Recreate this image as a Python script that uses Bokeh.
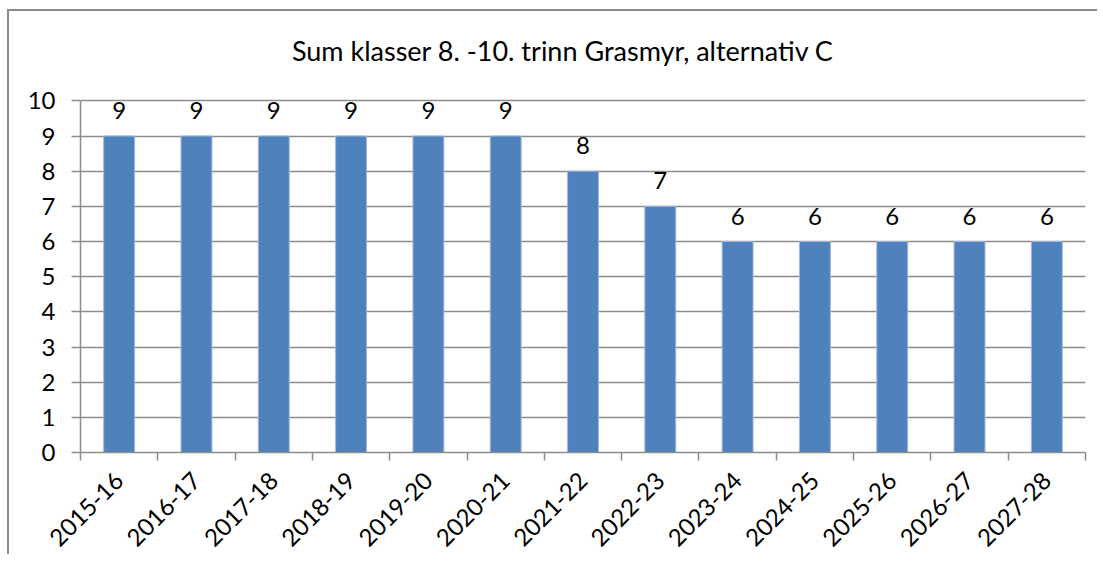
import math
from bokeh.plotting import figure
from bokeh.models import ColumnDataSource, Range1d, LabelSet, Label, FixedTicker
from bokeh.embed import file_html
from bokeh.resources import INLINE
from bokeh.core.properties import value

# ---- data ----
seasons = ["2015-16", "2016-17", "2017-18", "2018-19", "2019-20", "2020-21", "2021-22",
           "2022-23", "2023-24", "2024-25", "2025-26", "2026-27", "2027-28"]
classes = [9, 9, 9, 9, 9, 9, 8, 7, 6, 6, 6, 6, 6]
y_ticks = [0, 1, 2, 3, 4, 5, 6, 7, 8, 9, 10]
title_text = "Sum klasser 8. -10. trinn Grasmyr, alternativ C"

FONT = "Lato"
GRAY = "#8c8c8c"
BAR = "#4f81bd"

centers = [i + 0.5 for i in range(len(seasons))]
bounds = list(range(len(seasons) + 1))
src = ColumnDataSource(dict(x=centers, y=classes, label=[str(v) for v in classes]))

# the frame extends above the value axis so that the chart title can sit inside it
p = figure(width=1090, height=545, output_backend="svg", toolbar_location=None,
           x_range=Range1d(0, len(seasons)), y_range=Range1d(y_ticks[0], y_ticks[-1] + 2),
           min_border_left=71, min_border_right=14, min_border_top=19, min_border_bottom=104,
           styles={"margin-left": "7px", "margin-top": "9px",
                   "border-left": "2px solid #8a8a8a", "border-top": "2px solid #8a8a8a"})
p.outline_line_color = None
p.background_fill_color = "white"
p.border_fill_color = "white"

# chart title, centred over the chart area (slightly left of the plot frame centre)
title = Label(x=len(seasons) / 2, y=y_ticks[-1], x_offset=-20, y_offset=50,
              text=title_text, text_align="center", text_baseline="middle",
              text_font=FONT, text_font_size="27px", text_color="black")
p.add_layout(title)

p.vbar(x="x", top="y", width=0.4, bottom=0, source=src, fill_color=BAR,
       line_color="#9fb8da", line_width=1)

labels = LabelSet(x="x", y="y", text="label", source=src, text_align="center",
                  text_baseline="alphabetic", y_offset=17, text_font=value(FONT),
                  text_font_size="24px", text_color="black")
p.add_layout(labels)

# y axis
p.yaxis.ticker = FixedTicker(ticks=y_ticks)
p.yaxis.bounds = (y_ticks[0], y_ticks[-1])
p.yaxis.axis_line_color = GRAY
p.yaxis.axis_line_width = 1.5
p.yaxis.major_tick_line_color = GRAY
p.yaxis.major_tick_line_width = 1.5
p.yaxis.major_tick_out = 9
p.yaxis.major_tick_in = 0
p.yaxis.minor_tick_line_color = None
p.yaxis.major_label_standoff = 16
p.yaxis.major_label_text_font = FONT
p.yaxis.major_label_text_font_size = "24px"
p.yaxis.major_label_text_color = "black"

p.ygrid.ticker = FixedTicker(ticks=y_ticks)
p.ygrid.grid_line_color = GRAY
p.ygrid.grid_line_width = 1.5
p.xgrid.visible = False

# x axis
p.xaxis.ticker = FixedTicker(ticks=centers, minor_ticks=bounds)
p.xaxis.major_label_overrides = {c: s for c, s in zip(centers, seasons)}
p.xaxis.axis_line_color = GRAY
p.xaxis.axis_line_width = 1.5
p.xaxis.major_tick_line_color = None
p.xaxis.major_tick_out = 0
p.xaxis.major_tick_in = 0
p.xaxis.minor_tick_line_color = GRAY
p.xaxis.minor_tick_line_width = 1.5
p.xaxis.minor_tick_out = 8
p.xaxis.minor_tick_in = 0
p.xaxis.major_label_orientation = math.pi / 4
p.xaxis.major_label_standoff = 16
p.xaxis.major_label_text_font = FONT
p.xaxis.major_label_text_font_size = "24px"
p.xaxis.major_label_text_color = "black"

open("out.html", "w").write(file_html(p, INLINE))
